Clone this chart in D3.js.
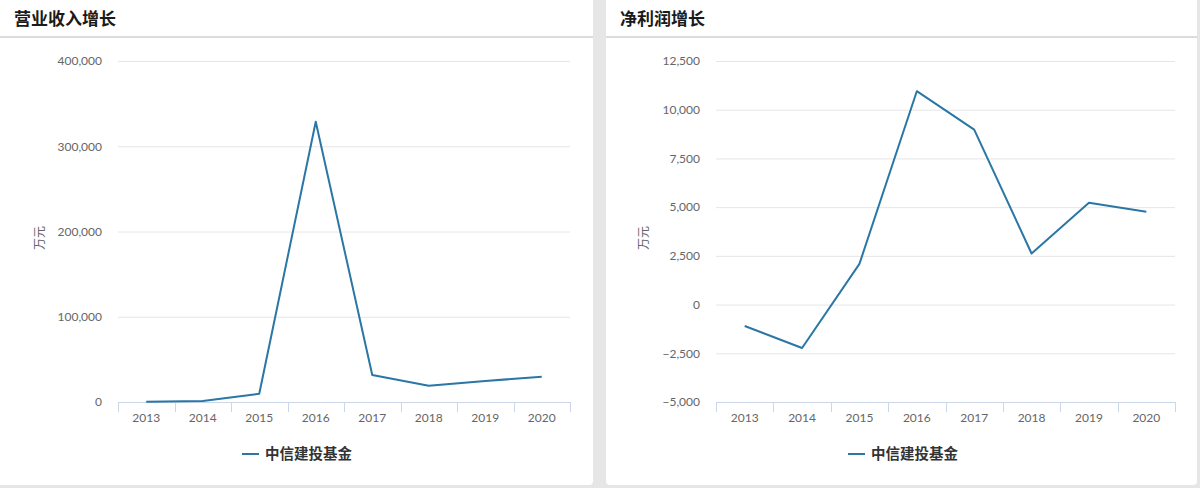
<!DOCTYPE html>
<html>
<head>
<meta charset="utf-8">
<script src="https://cdn.jsdelivr.net/npm/d3@7"></script>
<style>
  body { margin: 0; background: #e6e6e6; font-family: Lato, "Noto Sans CJK SC", sans-serif; }
  svg { display: block; }
</style>
</head>
<body>
<main></main>
<script>
const width = 1200;
const height = 488;

const years = ["2013", "2014", "2015", "2016", "2017", "2018", "2019", "2020"];
const seriesName = "中信建投基金";
const revenue = [400, 1200, 9700, 328800, 31700, 19100, 24600, 29700];
const netProfit = [-1100, -2230, 2090, 10950, 8980, 2620, 5220, 4760];
const revenueTicks = [0, 100000, 200000, 300000, 400000];
const profitTicks = [-5000, -2500, 0, 2500, 5000, 7500, 10000, 12500];
const unitLabel = "万元";
const lineColor = "#2a76a5";

const svg = d3.select("main")
              .append("svg")
              .attr("width", width)
              .attr("height", height);

const fmt = d3.format(",");

const drawPanel = (cfg) => {
    const g = svg.append("g");

    // card
    g.append("rect")
     .attr("x", cfg.cardX)
     .attr("y", -6)
     .attr("width", cfg.cardW)
     .attr("height", 491)
     .attr("rx", 4)
     .attr("fill", "#fff");

    g.append("text")
     .attr("x", cfg.titleX)
     .attr("y", 25)
     .attr("font-family", "'Noto Sans CJK SC', sans-serif")
     .attr("font-size", 17)
     .attr("font-weight", "bold")
     .attr("fill", "#1a1a1a")
     .text(cfg.title);

    g.append("rect")
     .attr("x", cfg.cardX)
     .attr("y", 36)
     .attr("width", cfg.cardW)
     .attr("height", 2)
     .attr("fill", "#dcdcdc");

    const xScale = d3.scaleBand()
                     .domain(years)
                     .range([cfg.left, cfg.right]);
    const yScale = d3.scaleLinear()
                     .domain(cfg.domain)
                     .range([402, 61]);

    // gridlines
    g.append("g")
     .attr("transform", `translate(${cfg.left},0)`)
     .call(d3.axisLeft(yScale).tickValues(cfg.ticks).tickSize(-(cfg.right - cfg.left)).tickFormat(""))
     .call(s => s.select(".domain").remove())
     .call(s => s.selectAll(".tick line").attr("stroke", "#e6e6e6"));

    // y labels
    g.append("g")
     .attr("transform", `translate(${cfg.left - 16},0)`)
     .call(d3.axisLeft(yScale).tickValues(cfg.ticks).tickSize(0).tickPadding(0).tickFormat(fmt))
     .call(s => s.select(".domain").remove())
     .call(s => s.selectAll("text")
                 .attr("font-family", "Lato, sans-serif")
                 .attr("font-size", 12)
                 .attr("fill", "#666"));

    // x axis line + boundary ticks
    g.append("line")
     .attr("x1", cfg.left).attr("x2", cfg.right)
     .attr("y1", 402.5).attr("y2", 402.5)
     .attr("stroke", "#ccd6eb");
    const bounds = years.map(d => xScale(d)).concat([cfg.right]);
    g.selectAll(".xtick")
     .data(bounds)
     .enter()
     .append("line")
     .attr("class", "xtick")
     .attr("x1", d => Math.round(d) + 0.5)
     .attr("x2", d => Math.round(d) + 0.5)
     .attr("y1", 402)
     .attr("y2", 412)
     .attr("stroke", "#ccd6eb");

    // x labels
    g.append("g")
     .attr("transform", "translate(0,402)")
     .call(d3.axisBottom(xScale).tickSize(0).tickPadding(11))
     .call(s => s.select(".domain").remove())
     .call(s => s.selectAll("text")
                 .attr("font-family", "Lato, sans-serif")
                 .attr("font-size", 12)
                 .attr("fill", "#666"));

    // unit label
    g.append("text")
     .attr("transform", `translate(${cfg.unitX},238) rotate(-90)`)
     .attr("text-anchor", "middle")
     .attr("font-family", "'Noto Sans CJK SC', sans-serif")
     .attr("font-size", 12)
     .attr("fill", "#666")
     .text(unitLabel);

    // line
    const line = d3.line()
                   .x((d, i) => xScale(years[i]) + xScale.bandwidth() / 2)
                   .y(d => yScale(d));
    g.append("path")
     .datum(cfg.values)
     .attr("d", line)
     .attr("fill", "none")
     .attr("stroke", lineColor)
     .attr("stroke-width", 2)
     .attr("stroke-linejoin", "round");

    // legend
    const lx = cfg.legendX;
    g.append("line")
     .attr("x1", lx).attr("x2", lx + 17)
     .attr("y1", 454).attr("y2", 454)
     .attr("stroke", lineColor)
     .attr("stroke-width", 2);
    g.append("text")
     .attr("x", lx + 23)
     .attr("y", 459)
     .attr("font-family", "'Noto Sans CJK SC', sans-serif")
     .attr("font-size", 14.5)
     .attr("font-weight", "bold")
     .attr("fill", "#333")
     .text(seriesName);
};

drawPanel({
    title: "营业收入增长",
    cardX: -6, cardW: 599,
    titleX: 14, unitX: 44, legendX: 242,
    left: 118, right: 570,
    domain: [0, 400000],
    ticks: revenueTicks,
    values: revenue
});

drawPanel({
    title: "净利润增长",
    cardX: 606, cardW: 591,
    titleX: 620, unitX: 648, legendX: 848,
    left: 716, right: 1175,
    domain: [-5000, 12500],
    ticks: profitTicks,
    values: netProfit
});
</script>
</body>
</html>
